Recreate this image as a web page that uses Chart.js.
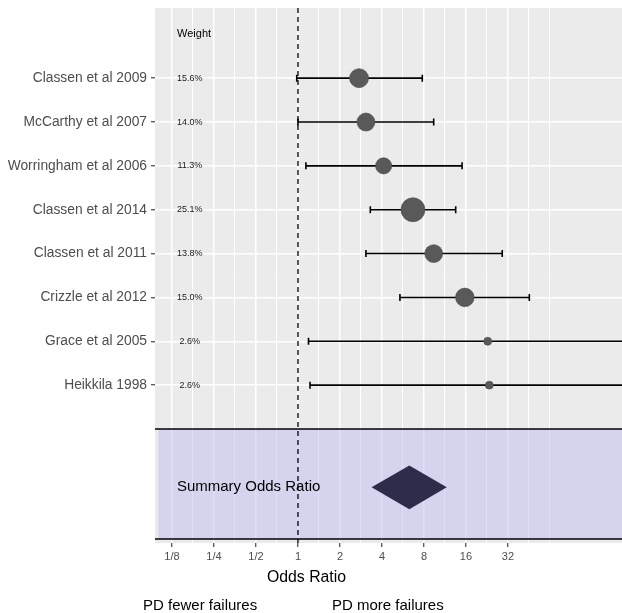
<!DOCTYPE html>
<html>
<head>
<meta charset="utf-8">
<script src="https://cdn.jsdelivr.net/npm/chart.js@4.4.0/dist/chart.umd.min.js"></script>
<style>
body { margin: 0; background: #fff; }
#wrap { position: relative; width: 622px; height: 613px; font-family: "Liberation Sans", Arial, sans-serif; }
.note { position: absolute; color: #000; white-space: nowrap; line-height: 1; }
</style>
</head>
<body>
<div id="wrap">
  <canvas id="forest" width="622" height="613"></canvas>
  <div class="note" style="left:267px; top:569px; font-size:15.8px;">Odds Ratio</div>
  <div class="note" style="left:143px; top:597px; font-size:15px;">PD fewer failures</div>
  <div class="note" style="left:332px; top:597px; font-size:15px;">PD more failures</div>
</div>
<script>
// Donnees
const studies = ['Classen et al 2009', 'McCarthy et al 2007', 'Worringham et al 2006', 'Classen et al 2014',
                 'Classen et al 2011', 'Crizzle et al 2012', 'Grace et al 2005', 'Heikkila 1998'];
const oddsRatio = [2.74, 3.07, 4.11, 6.67, 9.39, 15.7, 22.9, 23.5];
const ciLow = [0.98, 1.0, 1.14, 3.3, 3.07, 5.38, 1.19, 1.22];
const ciHigh = [7.78, 9.39, 15.0, 13.5, 29.1, 45.5, 440, 440];
const weights = [15.6, 14.0, 11.3, 25.1, 13.8, 15.0, 2.6, 2.6];
const summaryLow = 3.37;
const summaryOR = 6.28;
const summaryHigh = 11.65;
const tickValues = [1/8, 1/4, 1/2, 1, 2, 4, 8, 16, 32];
const tickLabels = ['1/8', '1/4', '1/2', '1', '2', '4', '8', '16', '32'];

const FONT = '"Liberation Sans", Arial, sans-serif';
Chart.defaults.font.family = FONT;

// pas de marge auto pour les gros points (sinon la zone du graphique rapetisse)
Chart.ScatterController.prototype.getMaxOverflow = function () { return 0; };

// lignes verticales : majeures sur les ticks, mineures entre deux
const gridValues = [];
for (let k = -6; k <= 12; k++) gridValues.push(Math.pow(2, k / 2));

function isMajor(v) {
    return tickValues.some(t => Math.abs(t - v) < 1e-6);
}

// positions (unites de l'axe y)
const HEADER_Y = 0;
const SPLIT_Y = 9;
const BOTTOM_Y = 11.51;
const SUMMARY_Y = 10.33;
const LABEL_X = 0.1357;
const WEIGHT_X = 0.168;
const HEADER_X = 0.18;

const forestPlugin = {
    id: 'forest',
    beforeDraw(chart) {
        const { ctx, chartArea: a } = chart;
        ctx.save();
        ctx.fillStyle = '#ebebeb';
        ctx.fillRect(a.left, a.top, a.right - a.left, a.bottom - a.top);
        ctx.restore();
    },
    beforeDatasetsDraw(chart) {
        const { ctx, chartArea: a, scales: { x, y } } = chart;
        ctx.save();
        ctx.beginPath();
        ctx.rect(a.left, a.top, a.right - a.left, a.bottom - a.top);
        ctx.clip();

        // bande du resume
        const bx = x.getPixelForValue(0.1);
        const top = y.getPixelForValue(SPLIT_Y);
        const bot = y.getPixelForValue(BOTTOM_Y);
        ctx.fillStyle = 'rgba(189,189,241,0.5)';
        ctx.fillRect(bx, top, a.right - bx, bot - top);

        ctx.strokeStyle = '#000';
        ctx.lineWidth = 1.6;
        [top, bot].forEach(py => {
            ctx.beginPath();
            ctx.moveTo(a.left, py);
            ctx.lineTo(a.right, py);
            ctx.stroke();
        });

        // ligne OR = 1
        const x1 = x.getPixelForValue(1);
        ctx.lineWidth = 1.3;
        ctx.setLineDash([5, 4]);
        ctx.beginPath();
        ctx.moveTo(x1, a.top);
        ctx.lineTo(x1, a.bottom);
        ctx.stroke();
        ctx.setLineDash([]);

        // intervalles de confiance
        ctx.lineWidth = 1.6;
        studies.forEach((s, i) => {
            const py = y.getPixelForValue(i + 1);
            const xl = x.getPixelForValue(ciLow[i]);
            const xh = x.getPixelForValue(ciHigh[i]);
            ctx.beginPath();
            ctx.moveTo(xl, py);
            ctx.lineTo(xh, py);
            ctx.moveTo(xl, py - 3.5);
            ctx.lineTo(xl, py + 3.5);
            ctx.moveTo(xh, py - 3.5);
            ctx.lineTo(xh, py + 3.5);
            ctx.stroke();
        });

        // losange
        ctx.fillStyle = '#2d2d4b';
        ctx.beginPath();
        ctx.moveTo(x.getPixelForValue(summaryLow), y.getPixelForValue(SUMMARY_Y));
        ctx.lineTo(x.getPixelForValue(summaryOR), y.getPixelForValue(SUMMARY_Y - 0.5));
        ctx.lineTo(x.getPixelForValue(summaryHigh), y.getPixelForValue(SUMMARY_Y));
        ctx.lineTo(x.getPixelForValue(summaryOR), y.getPixelForValue(SUMMARY_Y + 0.5));
        ctx.closePath();
        ctx.fill();
        ctx.restore();
    },
    afterDatasetsDraw(chart) {
        const { ctx, scales: { x, y } } = chart;
        ctx.save();
        ctx.textBaseline = 'middle';
        ctx.fillStyle = '#000';
        ctx.textAlign = 'center';
        ctx.font = '11px ' + FONT;
        ctx.fillText('Weight', x.getPixelForValue(HEADER_X), y.getPixelForValue(HEADER_Y));

        ctx.font = '9px ' + FONT;
        ctx.fillStyle = '#1a1a1a';
        weights.forEach((w, i) => {
            ctx.fillText(w.toFixed(1) + '%', x.getPixelForValue(WEIGHT_X), y.getPixelForValue(i + 1));
        });

        ctx.textAlign = 'left';
        ctx.fillStyle = '#000';
        ctx.font = '15px ' + FONT;
        ctx.fillText('Summary Odds Ratio', x.getPixelForValue(LABEL_X), y.getPixelForValue(SUMMARY_Y));
        ctx.restore();
    }
};

new Chart(document.getElementById('forest'), {
    type: 'scatter',
    data: {
        datasets: [{
            data: studies.map((s, i) => ({ x: oddsRatio[i], y: i + 1 })),
            pointRadius: weights.map(w => 0.2 + 2.35 * Math.sqrt(w)),
            pointBackgroundColor: '#595959',
            pointBorderColor: '#4a4a4a',
            pointBorderWidth: 0.6
        }]
    },
    options: {
        responsive: false,
        animation: false,
        events: [],
        layout: { padding: { top: 8, left: 0, right: 0, bottom: 0 } },
        plugins: { legend: { display: false }, tooltip: { enabled: false } },
        scales: {
            x: {
                type: 'logarithmic',
                min: 0.0945,
                max: 210,
                afterBuildTicks: s => { s.ticks = gridValues.map(v => ({ value: v })); },
                afterFit: s => { s.height = 70; s.paddingLeft = 0; s.paddingRight = 0; },
                border: { display: false },
                grid: {
                    color: '#ffffff',
                    lineWidth: c => (c.tick && isMajor(c.tick.value)) ? 1.5 : 1.0,
                    tickColor: c => (c.tick && isMajor(c.tick.value)) ? '#333333' : 'rgba(0,0,0,0)',
                    tickLength: 4,
                    tickWidth: 1.1
                },
                ticks: {
                    autoSkip: false,
                    maxRotation: 0,
                    padding: 3,
                    color: '#4d4d4d',
                    font: { size: 11 },
                    callback: v => {
                        const i = tickValues.findIndex(t => Math.abs(t - v) < 1e-6);
                        return i >= 0 ? tickLabels[i] : '';
                    }
                }
            },
            y: {
                type: 'linear',
                reverse: true,
                min: -0.6,
                max: 11.6,
                afterBuildTicks: s => { s.ticks = studies.map((n, i) => ({ value: i + 1 })); },
                afterFit: s => { s.width = 155; s.paddingTop = 0; s.paddingBottom = 0; },
                border: { display: false },
                grid: { color: '#ffffff', lineWidth: 1.5, tickColor: '#333333', tickLength: 4, tickWidth: 1.1 },
                ticks: {
                    autoSkip: false,
                    padding: 4,
                    color: '#4d4d4d',
                    font: { size: 13.8 },
                    callback: v => studies[Math.round(v) - 1] || ''
                }
            }
        }
    },
    plugins: [forestPlugin]
});
</script>
</body>
</html>
